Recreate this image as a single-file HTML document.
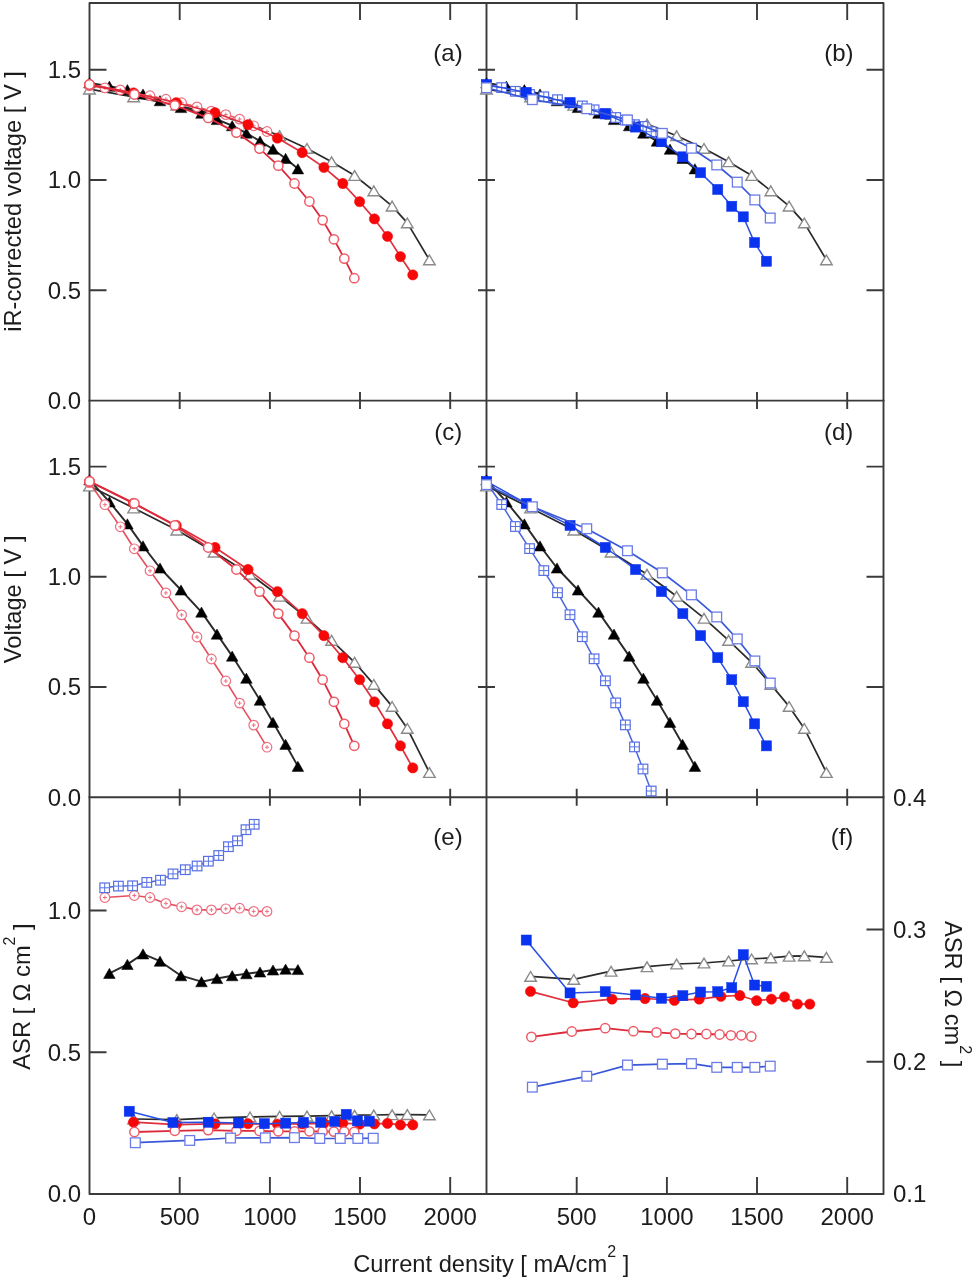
<!DOCTYPE html>
<html><head><meta charset="utf-8"><title>Chart</title>
<style>html,body{margin:0;padding:0;background:#fff;width:974px;height:1280px;overflow:hidden}svg{display:block}</style>
</head><body>
<svg width="974" height="1280" viewBox="0 0 974 1280">
<g stroke="#3a3a3a" stroke-width="1.9" fill="none" stroke-linecap="square" stroke-linejoin="round">
<rect x="89.5" y="3.0" width="794.0" height="1191.0"/>
<path d="M486.5 3.0V1194.0M89.5 400.6H883.5M89.5 797.2H883.5"/>
</g>
<path d="M179.7 3.0v17M179.7 392.1v17M179.7 788.7v17M179.7 1194.0v-17M269.9 3.0v17M269.9 392.1v17M269.9 788.7v17M269.9 1194.0v-17M360.0 3.0v17M360.0 392.1v17M360.0 788.7v17M360.0 1194.0v-17M450.2 3.0v17M450.2 392.1v17M450.2 788.7v17M450.2 1194.0v-17M576.7 3.0v17M576.7 392.1v17M576.7 788.7v17M576.7 1194.0v-17M666.9 3.0v17M666.9 392.1v17M666.9 788.7v17M666.9 1194.0v-17M757.0 3.0v17M757.0 392.1v17M757.0 788.7v17M757.0 1194.0v-17M847.2 3.0v17M847.2 392.1v17M847.2 788.7v17M847.2 1194.0v-17M89.5 290.3h17M478.0 290.3h17M883.5 290.3h-17M89.5 687.0h17M478.0 687.0h17M883.5 687.0h-17M89.5 180.0h17M478.0 180.0h17M883.5 180.0h-17M89.5 576.8h17M478.0 576.8h17M883.5 576.8h-17M89.5 69.7h17M478.0 69.7h17M883.5 69.7h-17M89.5 466.6h17M478.0 466.6h17M883.5 466.6h-17M89.5 1052.2h17M89.5 910.5h17M883.5 1061.8h-17M883.5 929.5h-17" stroke="#3a3a3a" stroke-width="1.9" fill="none"/>
<path d="M89.5 89.1 L133.6 96.9 L176.8 105.2 L214.1 114.4 L250.0 124.0 L279.6 135.7 L307.0 148.4 L331.6 161.7 L354.6 175.5 L373.8 190.8 L392.1 206.1 L407.3 222.9 L429.4 259.9" fill="none" stroke="#2a2a2a" stroke-width="1.7" stroke-linejoin="round"/>
<polygon points="83.7,94.0 95.3,94.0 89.5,84.2" fill="#ffffff" stroke="#8a8a8a" stroke-width="1.4" stroke-linejoin="miter"/>
<polygon points="127.8,101.8 139.4,101.8 133.6,92.0" fill="#ffffff" stroke="#8a8a8a" stroke-width="1.4" stroke-linejoin="miter"/>
<polygon points="171.0,110.1 182.6,110.1 176.8,100.3" fill="#ffffff" stroke="#8a8a8a" stroke-width="1.4" stroke-linejoin="miter"/>
<polygon points="208.3,119.3 219.9,119.3 214.1,109.5" fill="#ffffff" stroke="#8a8a8a" stroke-width="1.4" stroke-linejoin="miter"/>
<polygon points="244.2,128.9 255.8,128.9 250.0,119.1" fill="#ffffff" stroke="#8a8a8a" stroke-width="1.4" stroke-linejoin="miter"/>
<polygon points="273.8,140.6 285.4,140.6 279.6,130.8" fill="#ffffff" stroke="#8a8a8a" stroke-width="1.4" stroke-linejoin="miter"/>
<polygon points="301.2,153.3 312.8,153.3 307.0,143.5" fill="#ffffff" stroke="#8a8a8a" stroke-width="1.4" stroke-linejoin="miter"/>
<polygon points="325.8,166.6 337.4,166.6 331.6,156.8" fill="#ffffff" stroke="#8a8a8a" stroke-width="1.4" stroke-linejoin="miter"/>
<polygon points="348.8,180.4 360.4,180.4 354.6,170.6" fill="#ffffff" stroke="#8a8a8a" stroke-width="1.4" stroke-linejoin="miter"/>
<polygon points="368.0,195.7 379.6,195.7 373.8,185.9" fill="#ffffff" stroke="#8a8a8a" stroke-width="1.4" stroke-linejoin="miter"/>
<polygon points="386.3,211.0 397.9,211.0 392.1,201.2" fill="#ffffff" stroke="#8a8a8a" stroke-width="1.4" stroke-linejoin="miter"/>
<polygon points="401.5,227.8 413.1,227.8 407.3,218.0" fill="#ffffff" stroke="#8a8a8a" stroke-width="1.4" stroke-linejoin="miter"/>
<polygon points="423.6,264.8 435.2,264.8 429.4,255.0" fill="#ffffff" stroke="#8a8a8a" stroke-width="1.4" stroke-linejoin="miter"/>
<path d="M89.5 82.9 L109.4 86.2 L127.4 89.7 L143.0 94.0 L160.0 100.7 L181.0 107.5 L201.5 113.2 L217.0 119.5 L232.2 125.7 L246.4 133.1 L260.0 141.1 L273.0 149.2 L285.6 158.4 L297.9 168.8" fill="none" stroke="#2a2a2a" stroke-width="1.9" stroke-linejoin="round"/>
<polygon points="83.7,88.0 95.3,88.0 89.5,77.8" fill="#000000" stroke="#000000" stroke-width="0.5" stroke-linejoin="miter"/>
<polygon points="103.6,91.3 115.2,91.3 109.4,81.1" fill="#000000" stroke="#000000" stroke-width="0.5" stroke-linejoin="miter"/>
<polygon points="121.6,94.8 133.2,94.8 127.4,84.6" fill="#000000" stroke="#000000" stroke-width="0.5" stroke-linejoin="miter"/>
<polygon points="137.2,99.1 148.8,99.1 143.0,88.9" fill="#000000" stroke="#000000" stroke-width="0.5" stroke-linejoin="miter"/>
<polygon points="154.2,105.8 165.8,105.8 160.0,95.6" fill="#000000" stroke="#000000" stroke-width="0.5" stroke-linejoin="miter"/>
<polygon points="175.2,112.6 186.8,112.6 181.0,102.4" fill="#000000" stroke="#000000" stroke-width="0.5" stroke-linejoin="miter"/>
<polygon points="195.7,118.3 207.3,118.3 201.5,108.1" fill="#000000" stroke="#000000" stroke-width="0.5" stroke-linejoin="miter"/>
<polygon points="211.2,124.6 222.8,124.6 217.0,114.4" fill="#000000" stroke="#000000" stroke-width="0.5" stroke-linejoin="miter"/>
<polygon points="226.4,130.8 238.0,130.8 232.2,120.6" fill="#000000" stroke="#000000" stroke-width="0.5" stroke-linejoin="miter"/>
<polygon points="240.6,138.2 252.2,138.2 246.4,128.0" fill="#000000" stroke="#000000" stroke-width="0.5" stroke-linejoin="miter"/>
<polygon points="254.2,146.2 265.8,146.2 260.0,136.0" fill="#000000" stroke="#000000" stroke-width="0.5" stroke-linejoin="miter"/>
<polygon points="267.2,154.3 278.8,154.3 273.0,144.1" fill="#000000" stroke="#000000" stroke-width="0.5" stroke-linejoin="miter"/>
<polygon points="279.8,163.5 291.4,163.5 285.6,153.3" fill="#000000" stroke="#000000" stroke-width="0.5" stroke-linejoin="miter"/>
<polygon points="292.1,173.9 303.7,173.9 297.9,163.7" fill="#000000" stroke="#000000" stroke-width="0.5" stroke-linejoin="miter"/>
<path d="M89.5 85.8 L104.9 87.9 L120.3 89.9 L134.3 93.6 L150.0 95.7 L165.9 99.2 L181.6 102.7 L197.0 106.9 L211.4 111.1 L225.8 114.6 L239.6 119.1 L253.7 125.8 L267.0 131.5" fill="none" stroke="#e4505e" stroke-width="1.6" stroke-linejoin="round"/>
<circle cx="89.5" cy="85.8" r="4.80" fill="#ffffff" stroke="#ee7080" stroke-width="1.2"/><path d="M87.5 85.8H91.5M89.5 83.8V87.8" stroke="#ee7080" stroke-width="1"/>
<circle cx="104.9" cy="87.9" r="4.80" fill="#ffffff" stroke="#ee7080" stroke-width="1.2"/><path d="M102.9 87.9H106.9M104.9 85.9V89.9" stroke="#ee7080" stroke-width="1"/>
<circle cx="120.3" cy="89.9" r="4.80" fill="#ffffff" stroke="#ee7080" stroke-width="1.2"/><path d="M118.3 89.9H122.3M120.3 87.9V91.9" stroke="#ee7080" stroke-width="1"/>
<circle cx="134.3" cy="93.6" r="4.80" fill="#ffffff" stroke="#ee7080" stroke-width="1.2"/><path d="M132.3 93.6H136.3M134.3 91.6V95.6" stroke="#ee7080" stroke-width="1"/>
<circle cx="150.0" cy="95.7" r="4.80" fill="#ffffff" stroke="#ee7080" stroke-width="1.2"/><path d="M148.0 95.7H152.0M150.0 93.7V97.7" stroke="#ee7080" stroke-width="1"/>
<circle cx="165.9" cy="99.2" r="4.80" fill="#ffffff" stroke="#ee7080" stroke-width="1.2"/><path d="M163.9 99.2H167.9M165.9 97.2V101.2" stroke="#ee7080" stroke-width="1"/>
<circle cx="181.6" cy="102.7" r="4.80" fill="#ffffff" stroke="#ee7080" stroke-width="1.2"/><path d="M179.6 102.7H183.6M181.6 100.7V104.7" stroke="#ee7080" stroke-width="1"/>
<circle cx="197.0" cy="106.9" r="4.80" fill="#ffffff" stroke="#ee7080" stroke-width="1.2"/><path d="M195.0 106.9H199.0M197.0 104.9V108.9" stroke="#ee7080" stroke-width="1"/>
<circle cx="211.4" cy="111.1" r="4.80" fill="#ffffff" stroke="#ee7080" stroke-width="1.2"/><path d="M209.4 111.1H213.4M211.4 109.1V113.1" stroke="#ee7080" stroke-width="1"/>
<circle cx="225.8" cy="114.6" r="4.80" fill="#ffffff" stroke="#ee7080" stroke-width="1.2"/><path d="M223.8 114.6H227.8M225.8 112.6V116.6" stroke="#ee7080" stroke-width="1"/>
<circle cx="239.6" cy="119.1" r="4.80" fill="#ffffff" stroke="#ee7080" stroke-width="1.2"/><path d="M237.6 119.1H241.6M239.6 117.1V121.1" stroke="#ee7080" stroke-width="1"/>
<circle cx="253.7" cy="125.8" r="4.80" fill="#ffffff" stroke="#ee7080" stroke-width="1.2"/><path d="M251.7 125.8H255.7M253.7 123.8V127.8" stroke="#ee7080" stroke-width="1"/>
<circle cx="267.0" cy="131.5" r="4.80" fill="#ffffff" stroke="#ee7080" stroke-width="1.2"/><path d="M265.0 131.5H269.0M267.0 129.5V133.5" stroke="#ee7080" stroke-width="1"/>
<path d="M89.5 84.5 L133.5 92.9 L176.2 102.7 L215.0 112.7 L248.0 124.7 L277.4 138.1 L302.2 152.5 L323.9 167.4 L342.8 183.5 L359.6 201.7 L374.4 218.9 L387.5 236.4 L400.4 256.6 L412.8 274.9" fill="none" stroke="#e0303e" stroke-width="1.7" stroke-linejoin="round"/>
<circle cx="89.5" cy="84.5" r="5.15" fill="#f70808" stroke="#f70808" stroke-width="0.5"/>
<circle cx="133.5" cy="92.9" r="5.15" fill="#f70808" stroke="#f70808" stroke-width="0.5"/>
<circle cx="176.2" cy="102.7" r="5.15" fill="#f70808" stroke="#f70808" stroke-width="0.5"/>
<circle cx="215.0" cy="112.7" r="5.15" fill="#f70808" stroke="#f70808" stroke-width="0.5"/>
<circle cx="248.0" cy="124.7" r="5.15" fill="#f70808" stroke="#f70808" stroke-width="0.5"/>
<circle cx="277.4" cy="138.1" r="5.15" fill="#f70808" stroke="#f70808" stroke-width="0.5"/>
<circle cx="302.2" cy="152.5" r="5.15" fill="#f70808" stroke="#f70808" stroke-width="0.5"/>
<circle cx="323.9" cy="167.4" r="5.15" fill="#f70808" stroke="#f70808" stroke-width="0.5"/>
<circle cx="342.8" cy="183.5" r="5.15" fill="#f70808" stroke="#f70808" stroke-width="0.5"/>
<circle cx="359.6" cy="201.7" r="5.15" fill="#f70808" stroke="#f70808" stroke-width="0.5"/>
<circle cx="374.4" cy="218.9" r="5.15" fill="#f70808" stroke="#f70808" stroke-width="0.5"/>
<circle cx="387.5" cy="236.4" r="5.15" fill="#f70808" stroke="#f70808" stroke-width="0.5"/>
<circle cx="400.4" cy="256.6" r="5.15" fill="#f70808" stroke="#f70808" stroke-width="0.5"/>
<circle cx="412.8" cy="274.9" r="5.15" fill="#f70808" stroke="#f70808" stroke-width="0.5"/>
<path d="M89.5 84.5 L134.4 94.5 L174.8 105.3 L208.2 117.9 L236.4 132.6 L259.5 148.6 L278.3 165.7 L294.5 183.5 L309.4 201.5 L322.6 220.1 L333.9 239.3 L344.3 258.6 L354.3 278.2" fill="none" stroke="#dc2a3a" stroke-width="1.8" stroke-linejoin="round"/>
<circle cx="89.5" cy="84.5" r="4.65" fill="#ffffff" stroke="#ee5a66" stroke-width="1.5"/>
<circle cx="134.4" cy="94.5" r="4.65" fill="#ffffff" stroke="#ee5a66" stroke-width="1.5"/>
<circle cx="174.8" cy="105.3" r="4.65" fill="#ffffff" stroke="#ee5a66" stroke-width="1.5"/>
<circle cx="208.2" cy="117.9" r="4.65" fill="#ffffff" stroke="#ee5a66" stroke-width="1.5"/>
<circle cx="236.4" cy="132.6" r="4.65" fill="#ffffff" stroke="#ee5a66" stroke-width="1.5"/>
<circle cx="259.5" cy="148.6" r="4.65" fill="#ffffff" stroke="#ee5a66" stroke-width="1.5"/>
<circle cx="278.3" cy="165.7" r="4.65" fill="#ffffff" stroke="#ee5a66" stroke-width="1.5"/>
<circle cx="294.5" cy="183.5" r="4.65" fill="#ffffff" stroke="#ee5a66" stroke-width="1.5"/>
<circle cx="309.4" cy="201.5" r="4.65" fill="#ffffff" stroke="#ee5a66" stroke-width="1.5"/>
<circle cx="322.6" cy="220.1" r="4.65" fill="#ffffff" stroke="#ee5a66" stroke-width="1.5"/>
<circle cx="333.9" cy="239.3" r="4.65" fill="#ffffff" stroke="#ee5a66" stroke-width="1.5"/>
<circle cx="344.3" cy="258.6" r="4.65" fill="#ffffff" stroke="#ee5a66" stroke-width="1.5"/>
<circle cx="354.3" cy="278.2" r="4.65" fill="#ffffff" stroke="#ee5a66" stroke-width="1.5"/>
<path d="M89.5 486.0 L133.6 508.0 L176.8 530.1 L214.1 552.1 L250.0 574.2 L279.6 596.2 L307.0 618.2 L331.6 640.3 L354.6 662.3 L373.8 684.4 L392.1 706.4 L407.3 728.4 L429.4 772.5" fill="none" stroke="#2a2a2a" stroke-width="1.7" stroke-linejoin="round"/>
<polygon points="83.7,490.9 95.3,490.9 89.5,481.1" fill="#ffffff" stroke="#8a8a8a" stroke-width="1.4" stroke-linejoin="miter"/>
<polygon points="127.8,512.9 139.4,512.9 133.6,503.1" fill="#ffffff" stroke="#8a8a8a" stroke-width="1.4" stroke-linejoin="miter"/>
<polygon points="171.0,535.0 182.6,535.0 176.8,525.2" fill="#ffffff" stroke="#8a8a8a" stroke-width="1.4" stroke-linejoin="miter"/>
<polygon points="208.3,557.0 219.9,557.0 214.1,547.2" fill="#ffffff" stroke="#8a8a8a" stroke-width="1.4" stroke-linejoin="miter"/>
<polygon points="244.2,579.1 255.8,579.1 250.0,569.3" fill="#ffffff" stroke="#8a8a8a" stroke-width="1.4" stroke-linejoin="miter"/>
<polygon points="273.8,601.1 285.4,601.1 279.6,591.3" fill="#ffffff" stroke="#8a8a8a" stroke-width="1.4" stroke-linejoin="miter"/>
<polygon points="301.2,623.1 312.8,623.1 307.0,613.3" fill="#ffffff" stroke="#8a8a8a" stroke-width="1.4" stroke-linejoin="miter"/>
<polygon points="325.8,645.2 337.4,645.2 331.6,635.4" fill="#ffffff" stroke="#8a8a8a" stroke-width="1.4" stroke-linejoin="miter"/>
<polygon points="348.8,667.2 360.4,667.2 354.6,657.4" fill="#ffffff" stroke="#8a8a8a" stroke-width="1.4" stroke-linejoin="miter"/>
<polygon points="368.0,689.3 379.6,689.3 373.8,679.5" fill="#ffffff" stroke="#8a8a8a" stroke-width="1.4" stroke-linejoin="miter"/>
<polygon points="386.3,711.3 397.9,711.3 392.1,701.5" fill="#ffffff" stroke="#8a8a8a" stroke-width="1.4" stroke-linejoin="miter"/>
<polygon points="401.5,733.3 413.1,733.3 407.3,723.5" fill="#ffffff" stroke="#8a8a8a" stroke-width="1.4" stroke-linejoin="miter"/>
<polygon points="423.6,777.4 435.2,777.4 429.4,767.6" fill="#ffffff" stroke="#8a8a8a" stroke-width="1.4" stroke-linejoin="miter"/>
<path d="M89.5 479.8 L109.4 501.9 L127.4 523.9 L143.0 545.9 L160.0 568.0 L181.0 590.0 L201.5 612.1 L217.0 634.1 L232.2 656.1 L246.4 678.2 L260.0 700.2 L273.0 722.3 L285.6 744.3 L297.9 766.3" fill="none" stroke="#2a2a2a" stroke-width="1.9" stroke-linejoin="round"/>
<polygon points="83.7,484.9 95.3,484.9 89.5,474.7" fill="#000000" stroke="#000000" stroke-width="0.5" stroke-linejoin="miter"/>
<polygon points="103.6,507.0 115.2,507.0 109.4,496.8" fill="#000000" stroke="#000000" stroke-width="0.5" stroke-linejoin="miter"/>
<polygon points="121.6,529.0 133.2,529.0 127.4,518.8" fill="#000000" stroke="#000000" stroke-width="0.5" stroke-linejoin="miter"/>
<polygon points="137.2,551.0 148.8,551.0 143.0,540.8" fill="#000000" stroke="#000000" stroke-width="0.5" stroke-linejoin="miter"/>
<polygon points="154.2,573.1 165.8,573.1 160.0,562.9" fill="#000000" stroke="#000000" stroke-width="0.5" stroke-linejoin="miter"/>
<polygon points="175.2,595.1 186.8,595.1 181.0,584.9" fill="#000000" stroke="#000000" stroke-width="0.5" stroke-linejoin="miter"/>
<polygon points="195.7,617.2 207.3,617.2 201.5,607.0" fill="#000000" stroke="#000000" stroke-width="0.5" stroke-linejoin="miter"/>
<polygon points="211.2,639.2 222.8,639.2 217.0,629.0" fill="#000000" stroke="#000000" stroke-width="0.5" stroke-linejoin="miter"/>
<polygon points="226.4,661.2 238.0,661.2 232.2,651.0" fill="#000000" stroke="#000000" stroke-width="0.5" stroke-linejoin="miter"/>
<polygon points="240.6,683.3 252.2,683.3 246.4,673.1" fill="#000000" stroke="#000000" stroke-width="0.5" stroke-linejoin="miter"/>
<polygon points="254.2,705.3 265.8,705.3 260.0,695.1" fill="#000000" stroke="#000000" stroke-width="0.5" stroke-linejoin="miter"/>
<polygon points="267.2,727.4 278.8,727.4 273.0,717.2" fill="#000000" stroke="#000000" stroke-width="0.5" stroke-linejoin="miter"/>
<polygon points="279.8,749.4 291.4,749.4 285.6,739.2" fill="#000000" stroke="#000000" stroke-width="0.5" stroke-linejoin="miter"/>
<polygon points="292.1,771.4 303.7,771.4 297.9,761.2" fill="#000000" stroke="#000000" stroke-width="0.5" stroke-linejoin="miter"/>
<path d="M89.5 482.7 L104.9 504.7 L120.3 526.8 L134.3 548.8 L150.0 570.8 L165.9 592.9 L181.6 614.9 L197.0 637.0 L211.4 659.0 L225.8 681.0 L239.6 703.1 L253.7 725.1 L267.0 747.2" fill="none" stroke="#e4505e" stroke-width="1.6" stroke-linejoin="round"/>
<circle cx="89.5" cy="482.7" r="4.80" fill="#ffffff" stroke="#ee7080" stroke-width="1.2"/><path d="M87.5 482.7H91.5M89.5 480.7V484.7" stroke="#ee7080" stroke-width="1"/>
<circle cx="104.9" cy="504.7" r="4.80" fill="#ffffff" stroke="#ee7080" stroke-width="1.2"/><path d="M102.9 504.7H106.9M104.9 502.7V506.7" stroke="#ee7080" stroke-width="1"/>
<circle cx="120.3" cy="526.8" r="4.80" fill="#ffffff" stroke="#ee7080" stroke-width="1.2"/><path d="M118.3 526.8H122.3M120.3 524.8V528.8" stroke="#ee7080" stroke-width="1"/>
<circle cx="134.3" cy="548.8" r="4.80" fill="#ffffff" stroke="#ee7080" stroke-width="1.2"/><path d="M132.3 548.8H136.3M134.3 546.8V550.8" stroke="#ee7080" stroke-width="1"/>
<circle cx="150.0" cy="570.8" r="4.80" fill="#ffffff" stroke="#ee7080" stroke-width="1.2"/><path d="M148.0 570.8H152.0M150.0 568.8V572.8" stroke="#ee7080" stroke-width="1"/>
<circle cx="165.9" cy="592.9" r="4.80" fill="#ffffff" stroke="#ee7080" stroke-width="1.2"/><path d="M163.9 592.9H167.9M165.9 590.9V594.9" stroke="#ee7080" stroke-width="1"/>
<circle cx="181.6" cy="614.9" r="4.80" fill="#ffffff" stroke="#ee7080" stroke-width="1.2"/><path d="M179.6 614.9H183.6M181.6 612.9V616.9" stroke="#ee7080" stroke-width="1"/>
<circle cx="197.0" cy="637.0" r="4.80" fill="#ffffff" stroke="#ee7080" stroke-width="1.2"/><path d="M195.0 637.0H199.0M197.0 635.0V639.0" stroke="#ee7080" stroke-width="1"/>
<circle cx="211.4" cy="659.0" r="4.80" fill="#ffffff" stroke="#ee7080" stroke-width="1.2"/><path d="M209.4 659.0H213.4M211.4 657.0V661.0" stroke="#ee7080" stroke-width="1"/>
<circle cx="225.8" cy="681.0" r="4.80" fill="#ffffff" stroke="#ee7080" stroke-width="1.2"/><path d="M223.8 681.0H227.8M225.8 679.0V683.0" stroke="#ee7080" stroke-width="1"/>
<circle cx="239.6" cy="703.1" r="4.80" fill="#ffffff" stroke="#ee7080" stroke-width="1.2"/><path d="M237.6 703.1H241.6M239.6 701.1V705.1" stroke="#ee7080" stroke-width="1"/>
<circle cx="253.7" cy="725.1" r="4.80" fill="#ffffff" stroke="#ee7080" stroke-width="1.2"/><path d="M251.7 725.1H255.7M253.7 723.1V727.1" stroke="#ee7080" stroke-width="1"/>
<circle cx="267.0" cy="747.2" r="4.80" fill="#ffffff" stroke="#ee7080" stroke-width="1.2"/><path d="M265.0 747.2H269.0M267.0 745.2V749.2" stroke="#ee7080" stroke-width="1"/>
<path d="M89.5 481.4 L133.5 503.4 L176.2 525.4 L215.0 547.5 L248.0 569.5 L277.4 591.6 L302.2 613.6 L323.9 635.6 L342.8 657.7 L359.6 679.7 L374.4 701.8 L387.5 723.8 L400.4 745.8 L412.8 767.9" fill="none" stroke="#e0303e" stroke-width="1.7" stroke-linejoin="round"/>
<circle cx="89.5" cy="481.4" r="5.15" fill="#f70808" stroke="#f70808" stroke-width="0.5"/>
<circle cx="133.5" cy="503.4" r="5.15" fill="#f70808" stroke="#f70808" stroke-width="0.5"/>
<circle cx="176.2" cy="525.4" r="5.15" fill="#f70808" stroke="#f70808" stroke-width="0.5"/>
<circle cx="215.0" cy="547.5" r="5.15" fill="#f70808" stroke="#f70808" stroke-width="0.5"/>
<circle cx="248.0" cy="569.5" r="5.15" fill="#f70808" stroke="#f70808" stroke-width="0.5"/>
<circle cx="277.4" cy="591.6" r="5.15" fill="#f70808" stroke="#f70808" stroke-width="0.5"/>
<circle cx="302.2" cy="613.6" r="5.15" fill="#f70808" stroke="#f70808" stroke-width="0.5"/>
<circle cx="323.9" cy="635.6" r="5.15" fill="#f70808" stroke="#f70808" stroke-width="0.5"/>
<circle cx="342.8" cy="657.7" r="5.15" fill="#f70808" stroke="#f70808" stroke-width="0.5"/>
<circle cx="359.6" cy="679.7" r="5.15" fill="#f70808" stroke="#f70808" stroke-width="0.5"/>
<circle cx="374.4" cy="701.8" r="5.15" fill="#f70808" stroke="#f70808" stroke-width="0.5"/>
<circle cx="387.5" cy="723.8" r="5.15" fill="#f70808" stroke="#f70808" stroke-width="0.5"/>
<circle cx="400.4" cy="745.8" r="5.15" fill="#f70808" stroke="#f70808" stroke-width="0.5"/>
<circle cx="412.8" cy="767.9" r="5.15" fill="#f70808" stroke="#f70808" stroke-width="0.5"/>
<path d="M89.5 481.4 L134.4 503.4 L174.8 525.4 L208.2 547.5 L236.4 569.5 L259.5 591.6 L278.3 613.6 L294.5 635.6 L309.4 657.7 L322.6 679.7 L333.9 701.8 L344.3 723.8 L354.3 745.8" fill="none" stroke="#dc2a3a" stroke-width="1.8" stroke-linejoin="round"/>
<circle cx="89.5" cy="481.4" r="4.65" fill="#ffffff" stroke="#ee5a66" stroke-width="1.5"/>
<circle cx="134.4" cy="503.4" r="4.65" fill="#ffffff" stroke="#ee5a66" stroke-width="1.5"/>
<circle cx="174.8" cy="525.4" r="4.65" fill="#ffffff" stroke="#ee5a66" stroke-width="1.5"/>
<circle cx="208.2" cy="547.5" r="4.65" fill="#ffffff" stroke="#ee5a66" stroke-width="1.5"/>
<circle cx="236.4" cy="569.5" r="4.65" fill="#ffffff" stroke="#ee5a66" stroke-width="1.5"/>
<circle cx="259.5" cy="591.6" r="4.65" fill="#ffffff" stroke="#ee5a66" stroke-width="1.5"/>
<circle cx="278.3" cy="613.6" r="4.65" fill="#ffffff" stroke="#ee5a66" stroke-width="1.5"/>
<circle cx="294.5" cy="635.6" r="4.65" fill="#ffffff" stroke="#ee5a66" stroke-width="1.5"/>
<circle cx="309.4" cy="657.7" r="4.65" fill="#ffffff" stroke="#ee5a66" stroke-width="1.5"/>
<circle cx="322.6" cy="679.7" r="4.65" fill="#ffffff" stroke="#ee5a66" stroke-width="1.5"/>
<circle cx="333.9" cy="701.8" r="4.65" fill="#ffffff" stroke="#ee5a66" stroke-width="1.5"/>
<circle cx="344.3" cy="723.8" r="4.65" fill="#ffffff" stroke="#ee5a66" stroke-width="1.5"/>
<circle cx="354.3" cy="745.8" r="4.65" fill="#ffffff" stroke="#ee5a66" stroke-width="1.5"/>
<path d="M486.5 89.1 L530.6 96.9 L573.8 105.2 L611.1 114.4 L647.0 124.0 L676.6 135.7 L704.0 148.4 L728.6 161.7 L751.6 175.5 L770.8 190.8 L789.1 206.1 L804.3 222.9 L826.4 259.9" fill="none" stroke="#2a2a2a" stroke-width="1.7" stroke-linejoin="round"/>
<polygon points="480.7,94.0 492.3,94.0 486.5,84.2" fill="#ffffff" stroke="#8a8a8a" stroke-width="1.4" stroke-linejoin="miter"/>
<polygon points="524.8,101.8 536.4,101.8 530.6,92.0" fill="#ffffff" stroke="#8a8a8a" stroke-width="1.4" stroke-linejoin="miter"/>
<polygon points="568.0,110.1 579.6,110.1 573.8,100.3" fill="#ffffff" stroke="#8a8a8a" stroke-width="1.4" stroke-linejoin="miter"/>
<polygon points="605.3,119.3 616.9,119.3 611.1,109.5" fill="#ffffff" stroke="#8a8a8a" stroke-width="1.4" stroke-linejoin="miter"/>
<polygon points="641.2,128.9 652.8,128.9 647.0,119.1" fill="#ffffff" stroke="#8a8a8a" stroke-width="1.4" stroke-linejoin="miter"/>
<polygon points="670.8,140.6 682.4,140.6 676.6,130.8" fill="#ffffff" stroke="#8a8a8a" stroke-width="1.4" stroke-linejoin="miter"/>
<polygon points="698.2,153.3 709.8,153.3 704.0,143.5" fill="#ffffff" stroke="#8a8a8a" stroke-width="1.4" stroke-linejoin="miter"/>
<polygon points="722.8,166.6 734.4,166.6 728.6,156.8" fill="#ffffff" stroke="#8a8a8a" stroke-width="1.4" stroke-linejoin="miter"/>
<polygon points="745.8,180.4 757.4,180.4 751.6,170.6" fill="#ffffff" stroke="#8a8a8a" stroke-width="1.4" stroke-linejoin="miter"/>
<polygon points="765.0,195.7 776.6,195.7 770.8,185.9" fill="#ffffff" stroke="#8a8a8a" stroke-width="1.4" stroke-linejoin="miter"/>
<polygon points="783.3,211.0 794.9,211.0 789.1,201.2" fill="#ffffff" stroke="#8a8a8a" stroke-width="1.4" stroke-linejoin="miter"/>
<polygon points="798.5,227.8 810.1,227.8 804.3,218.0" fill="#ffffff" stroke="#8a8a8a" stroke-width="1.4" stroke-linejoin="miter"/>
<polygon points="820.6,264.8 832.2,264.8 826.4,255.0" fill="#ffffff" stroke="#8a8a8a" stroke-width="1.4" stroke-linejoin="miter"/>
<path d="M486.5 82.9 L506.4 86.2 L524.4 89.7 L540.0 94.0 L557.0 100.7 L578.0 107.5 L598.5 113.2 L614.0 119.5 L629.2 125.7 L643.4 133.1 L657.0 141.1 L670.0 149.2 L682.6 158.4 L694.9 168.8" fill="none" stroke="#2a2a2a" stroke-width="1.9" stroke-linejoin="round"/>
<polygon points="480.7,88.0 492.3,88.0 486.5,77.8" fill="#000000" stroke="#000000" stroke-width="0.5" stroke-linejoin="miter"/>
<polygon points="500.6,91.3 512.2,91.3 506.4,81.1" fill="#000000" stroke="#000000" stroke-width="0.5" stroke-linejoin="miter"/>
<polygon points="518.6,94.8 530.2,94.8 524.4,84.6" fill="#000000" stroke="#000000" stroke-width="0.5" stroke-linejoin="miter"/>
<polygon points="534.2,99.1 545.8,99.1 540.0,88.9" fill="#000000" stroke="#000000" stroke-width="0.5" stroke-linejoin="miter"/>
<polygon points="551.2,105.8 562.8,105.8 557.0,95.6" fill="#000000" stroke="#000000" stroke-width="0.5" stroke-linejoin="miter"/>
<polygon points="572.2,112.6 583.8,112.6 578.0,102.4" fill="#000000" stroke="#000000" stroke-width="0.5" stroke-linejoin="miter"/>
<polygon points="592.7,118.3 604.3,118.3 598.5,108.1" fill="#000000" stroke="#000000" stroke-width="0.5" stroke-linejoin="miter"/>
<polygon points="608.2,124.6 619.8,124.6 614.0,114.4" fill="#000000" stroke="#000000" stroke-width="0.5" stroke-linejoin="miter"/>
<polygon points="623.4,130.8 635.0,130.8 629.2,120.6" fill="#000000" stroke="#000000" stroke-width="0.5" stroke-linejoin="miter"/>
<polygon points="637.6,138.2 649.2,138.2 643.4,128.0" fill="#000000" stroke="#000000" stroke-width="0.5" stroke-linejoin="miter"/>
<polygon points="651.2,146.2 662.8,146.2 657.0,136.0" fill="#000000" stroke="#000000" stroke-width="0.5" stroke-linejoin="miter"/>
<polygon points="664.2,154.3 675.8,154.3 670.0,144.1" fill="#000000" stroke="#000000" stroke-width="0.5" stroke-linejoin="miter"/>
<polygon points="676.8,163.5 688.4,163.5 682.6,153.3" fill="#000000" stroke="#000000" stroke-width="0.5" stroke-linejoin="miter"/>
<polygon points="689.1,173.9 700.7,173.9 694.9,163.7" fill="#000000" stroke="#000000" stroke-width="0.5" stroke-linejoin="miter"/>
<path d="M486.5 85.6 L501.7 87.6 L515.4 91.3 L529.6 94.5 L543.8 96.8 L557.5 99.7 L570.0 102.6 L582.3 105.9 L594.1 109.8 L605.4 113.4 L615.7 117.5 L625.4 120.1 L634.5 124.7 L643.0 126.4 L651.2 131.7" fill="none" stroke="#4a66dc" stroke-width="1.5" stroke-linejoin="round"/>
<rect x="481.7" y="80.8" width="9.6" height="9.6" fill="#ffffff" stroke="#5870e4" stroke-width="1.2"/><path d="M481.7 85.6H491.3M486.5 80.8V90.4" stroke="#5870e4" stroke-width="1"/>
<rect x="496.9" y="82.8" width="9.6" height="9.6" fill="#ffffff" stroke="#5870e4" stroke-width="1.2"/><path d="M496.9 87.6H506.5M501.7 82.8V92.4" stroke="#5870e4" stroke-width="1"/>
<rect x="510.6" y="86.5" width="9.6" height="9.6" fill="#ffffff" stroke="#5870e4" stroke-width="1.2"/><path d="M510.6 91.3H520.2M515.4 86.5V96.1" stroke="#5870e4" stroke-width="1"/>
<rect x="524.8" y="89.7" width="9.6" height="9.6" fill="#ffffff" stroke="#5870e4" stroke-width="1.2"/><path d="M524.8 94.5H534.4M529.6 89.7V99.3" stroke="#5870e4" stroke-width="1"/>
<rect x="539.0" y="92.0" width="9.6" height="9.6" fill="#ffffff" stroke="#5870e4" stroke-width="1.2"/><path d="M539.0 96.8H548.6M543.8 92.0V101.6" stroke="#5870e4" stroke-width="1"/>
<rect x="552.7" y="94.9" width="9.6" height="9.6" fill="#ffffff" stroke="#5870e4" stroke-width="1.2"/><path d="M552.7 99.7H562.3M557.5 94.9V104.5" stroke="#5870e4" stroke-width="1"/>
<rect x="565.2" y="97.8" width="9.6" height="9.6" fill="#ffffff" stroke="#5870e4" stroke-width="1.2"/><path d="M565.2 102.6H574.8M570.0 97.8V107.4" stroke="#5870e4" stroke-width="1"/>
<rect x="577.5" y="101.1" width="9.6" height="9.6" fill="#ffffff" stroke="#5870e4" stroke-width="1.2"/><path d="M577.5 105.9H587.1M582.3 101.1V110.7" stroke="#5870e4" stroke-width="1"/>
<rect x="589.3" y="105.0" width="9.6" height="9.6" fill="#ffffff" stroke="#5870e4" stroke-width="1.2"/><path d="M589.3 109.8H598.9M594.1 105.0V114.6" stroke="#5870e4" stroke-width="1"/>
<rect x="600.6" y="108.6" width="9.6" height="9.6" fill="#ffffff" stroke="#5870e4" stroke-width="1.2"/><path d="M600.6 113.4H610.2M605.4 108.6V118.2" stroke="#5870e4" stroke-width="1"/>
<rect x="610.9" y="112.7" width="9.6" height="9.6" fill="#ffffff" stroke="#5870e4" stroke-width="1.2"/><path d="M610.9 117.5H620.5M615.7 112.7V122.3" stroke="#5870e4" stroke-width="1"/>
<rect x="620.6" y="115.3" width="9.6" height="9.6" fill="#ffffff" stroke="#5870e4" stroke-width="1.2"/><path d="M620.6 120.1H630.2M625.4 115.3V124.9" stroke="#5870e4" stroke-width="1"/>
<rect x="629.7" y="119.9" width="9.6" height="9.6" fill="#ffffff" stroke="#5870e4" stroke-width="1.2"/><path d="M629.7 124.7H639.3M634.5 119.9V129.5" stroke="#5870e4" stroke-width="1"/>
<rect x="638.2" y="121.6" width="9.6" height="9.6" fill="#ffffff" stroke="#5870e4" stroke-width="1.2"/><path d="M638.2 126.4H647.8M643.0 121.6V131.2" stroke="#5870e4" stroke-width="1"/>
<rect x="646.4" y="126.9" width="9.6" height="9.6" fill="#ffffff" stroke="#5870e4" stroke-width="1.2"/><path d="M646.4 131.7H656.0M651.2 126.9V136.5" stroke="#5870e4" stroke-width="1"/>
<path d="M486.5 84.5 L526.2 92.4 L570.0 102.9 L605.2 113.9 L635.5 127.1 L661.4 141.7 L682.8 156.8 L700.5 172.8 L717.7 189.4 L731.7 206.2 L743.3 216.8 L754.5 242.6 L766.4 261.2" fill="none" stroke="#2a4ee0" stroke-width="1.5" stroke-linejoin="round"/>
<rect x="481.4" y="79.4" width="10.1" height="10.1" fill="#0a33f0" stroke="#0a33f0" stroke-width="0.5"/>
<rect x="521.2" y="87.3" width="10.1" height="10.1" fill="#0a33f0" stroke="#0a33f0" stroke-width="0.5"/>
<rect x="565.0" y="97.8" width="10.1" height="10.1" fill="#0a33f0" stroke="#0a33f0" stroke-width="0.5"/>
<rect x="600.2" y="108.9" width="10.1" height="10.1" fill="#0a33f0" stroke="#0a33f0" stroke-width="0.5"/>
<rect x="630.5" y="122.0" width="10.1" height="10.1" fill="#0a33f0" stroke="#0a33f0" stroke-width="0.5"/>
<rect x="656.4" y="136.7" width="10.1" height="10.1" fill="#0a33f0" stroke="#0a33f0" stroke-width="0.5"/>
<rect x="677.8" y="151.8" width="10.1" height="10.1" fill="#0a33f0" stroke="#0a33f0" stroke-width="0.5"/>
<rect x="695.5" y="167.7" width="10.1" height="10.1" fill="#0a33f0" stroke="#0a33f0" stroke-width="0.5"/>
<rect x="712.7" y="184.4" width="10.1" height="10.1" fill="#0a33f0" stroke="#0a33f0" stroke-width="0.5"/>
<rect x="726.7" y="201.2" width="10.1" height="10.1" fill="#0a33f0" stroke="#0a33f0" stroke-width="0.5"/>
<rect x="738.2" y="211.8" width="10.1" height="10.1" fill="#0a33f0" stroke="#0a33f0" stroke-width="0.5"/>
<rect x="749.5" y="237.5" width="10.1" height="10.1" fill="#0a33f0" stroke="#0a33f0" stroke-width="0.5"/>
<rect x="761.4" y="256.2" width="10.1" height="10.1" fill="#0a33f0" stroke="#0a33f0" stroke-width="0.5"/>
<path d="M486.5 87.8 L532.4 99.7 L586.8 108.7 L627.5 119.9 L662.4 133.4 L691.5 148.3 L716.8 165.0 L737.2 182.2 L754.9 200.0 L770.2 218.1" fill="none" stroke="#3a58d8" stroke-width="1.7" stroke-linejoin="round"/>
<rect x="481.6" y="82.9" width="9.7" height="9.7" fill="#ffffff" stroke="#6c7ce6" stroke-width="1.3"/>
<rect x="527.5" y="94.8" width="9.7" height="9.7" fill="#ffffff" stroke="#6c7ce6" stroke-width="1.3"/>
<rect x="581.9" y="103.9" width="9.7" height="9.7" fill="#ffffff" stroke="#6c7ce6" stroke-width="1.3"/>
<rect x="622.6" y="115.1" width="9.7" height="9.7" fill="#ffffff" stroke="#6c7ce6" stroke-width="1.3"/>
<rect x="657.5" y="128.5" width="9.7" height="9.7" fill="#ffffff" stroke="#6c7ce6" stroke-width="1.3"/>
<rect x="686.6" y="143.4" width="9.7" height="9.7" fill="#ffffff" stroke="#6c7ce6" stroke-width="1.3"/>
<rect x="711.9" y="160.1" width="9.7" height="9.7" fill="#ffffff" stroke="#6c7ce6" stroke-width="1.3"/>
<rect x="732.4" y="177.3" width="9.7" height="9.7" fill="#ffffff" stroke="#6c7ce6" stroke-width="1.3"/>
<rect x="750.0" y="195.1" width="9.7" height="9.7" fill="#ffffff" stroke="#6c7ce6" stroke-width="1.3"/>
<rect x="765.4" y="213.2" width="9.7" height="9.7" fill="#ffffff" stroke="#6c7ce6" stroke-width="1.3"/>
<path d="M486.5 486.0 L530.6 508.0 L573.8 530.1 L611.1 552.1 L647.0 574.2 L676.6 596.2 L704.0 618.2 L728.6 640.3 L751.6 662.3 L770.8 684.4 L789.1 706.4 L804.3 728.4 L826.4 772.5" fill="none" stroke="#2a2a2a" stroke-width="1.7" stroke-linejoin="round"/>
<polygon points="480.7,490.9 492.3,490.9 486.5,481.1" fill="#ffffff" stroke="#8a8a8a" stroke-width="1.4" stroke-linejoin="miter"/>
<polygon points="524.8,512.9 536.4,512.9 530.6,503.1" fill="#ffffff" stroke="#8a8a8a" stroke-width="1.4" stroke-linejoin="miter"/>
<polygon points="568.0,535.0 579.6,535.0 573.8,525.2" fill="#ffffff" stroke="#8a8a8a" stroke-width="1.4" stroke-linejoin="miter"/>
<polygon points="605.3,557.0 616.9,557.0 611.1,547.2" fill="#ffffff" stroke="#8a8a8a" stroke-width="1.4" stroke-linejoin="miter"/>
<polygon points="641.2,579.1 652.8,579.1 647.0,569.3" fill="#ffffff" stroke="#8a8a8a" stroke-width="1.4" stroke-linejoin="miter"/>
<polygon points="670.8,601.1 682.4,601.1 676.6,591.3" fill="#ffffff" stroke="#8a8a8a" stroke-width="1.4" stroke-linejoin="miter"/>
<polygon points="698.2,623.1 709.8,623.1 704.0,613.3" fill="#ffffff" stroke="#8a8a8a" stroke-width="1.4" stroke-linejoin="miter"/>
<polygon points="722.8,645.2 734.4,645.2 728.6,635.4" fill="#ffffff" stroke="#8a8a8a" stroke-width="1.4" stroke-linejoin="miter"/>
<polygon points="745.8,667.2 757.4,667.2 751.6,657.4" fill="#ffffff" stroke="#8a8a8a" stroke-width="1.4" stroke-linejoin="miter"/>
<polygon points="765.0,689.3 776.6,689.3 770.8,679.5" fill="#ffffff" stroke="#8a8a8a" stroke-width="1.4" stroke-linejoin="miter"/>
<polygon points="783.3,711.3 794.9,711.3 789.1,701.5" fill="#ffffff" stroke="#8a8a8a" stroke-width="1.4" stroke-linejoin="miter"/>
<polygon points="798.5,733.3 810.1,733.3 804.3,723.5" fill="#ffffff" stroke="#8a8a8a" stroke-width="1.4" stroke-linejoin="miter"/>
<polygon points="820.6,777.4 832.2,777.4 826.4,767.6" fill="#ffffff" stroke="#8a8a8a" stroke-width="1.4" stroke-linejoin="miter"/>
<path d="M486.5 479.8 L506.4 501.9 L524.4 523.9 L540.0 545.9 L557.0 568.0 L578.0 590.0 L598.5 612.1 L614.0 634.1 L629.2 656.1 L643.4 678.2 L657.0 700.2 L670.0 722.3 L682.6 744.3 L694.9 766.3" fill="none" stroke="#2a2a2a" stroke-width="1.9" stroke-linejoin="round"/>
<polygon points="480.7,484.9 492.3,484.9 486.5,474.7" fill="#000000" stroke="#000000" stroke-width="0.5" stroke-linejoin="miter"/>
<polygon points="500.6,507.0 512.2,507.0 506.4,496.8" fill="#000000" stroke="#000000" stroke-width="0.5" stroke-linejoin="miter"/>
<polygon points="518.6,529.0 530.2,529.0 524.4,518.8" fill="#000000" stroke="#000000" stroke-width="0.5" stroke-linejoin="miter"/>
<polygon points="534.2,551.0 545.8,551.0 540.0,540.8" fill="#000000" stroke="#000000" stroke-width="0.5" stroke-linejoin="miter"/>
<polygon points="551.2,573.1 562.8,573.1 557.0,562.9" fill="#000000" stroke="#000000" stroke-width="0.5" stroke-linejoin="miter"/>
<polygon points="572.2,595.1 583.8,595.1 578.0,584.9" fill="#000000" stroke="#000000" stroke-width="0.5" stroke-linejoin="miter"/>
<polygon points="592.7,617.2 604.3,617.2 598.5,607.0" fill="#000000" stroke="#000000" stroke-width="0.5" stroke-linejoin="miter"/>
<polygon points="608.2,639.2 619.8,639.2 614.0,629.0" fill="#000000" stroke="#000000" stroke-width="0.5" stroke-linejoin="miter"/>
<polygon points="623.4,661.2 635.0,661.2 629.2,651.0" fill="#000000" stroke="#000000" stroke-width="0.5" stroke-linejoin="miter"/>
<polygon points="637.6,683.3 649.2,683.3 643.4,673.1" fill="#000000" stroke="#000000" stroke-width="0.5" stroke-linejoin="miter"/>
<polygon points="651.2,705.3 662.8,705.3 657.0,695.1" fill="#000000" stroke="#000000" stroke-width="0.5" stroke-linejoin="miter"/>
<polygon points="664.2,727.4 675.8,727.4 670.0,717.2" fill="#000000" stroke="#000000" stroke-width="0.5" stroke-linejoin="miter"/>
<polygon points="676.8,749.4 688.4,749.4 682.6,739.2" fill="#000000" stroke="#000000" stroke-width="0.5" stroke-linejoin="miter"/>
<polygon points="689.1,771.4 700.7,771.4 694.9,761.2" fill="#000000" stroke="#000000" stroke-width="0.5" stroke-linejoin="miter"/>
<path d="M486.5 482.5 L501.7 504.5 L515.4 526.5 L529.6 548.6 L543.8 570.6 L557.5 592.7 L570.0 614.7 L582.3 636.7 L594.1 658.8 L605.4 680.8 L615.7 702.9 L625.4 724.9 L634.5 746.9 L643.0 769.0 L651.2 791.0" fill="none" stroke="#4a66dc" stroke-width="1.5" stroke-linejoin="round"/>
<rect x="481.7" y="477.7" width="9.6" height="9.6" fill="#ffffff" stroke="#5870e4" stroke-width="1.2"/><path d="M481.7 482.5H491.3M486.5 477.7V487.3" stroke="#5870e4" stroke-width="1"/>
<rect x="496.9" y="499.7" width="9.6" height="9.6" fill="#ffffff" stroke="#5870e4" stroke-width="1.2"/><path d="M496.9 504.5H506.5M501.7 499.7V509.3" stroke="#5870e4" stroke-width="1"/>
<rect x="510.6" y="521.7" width="9.6" height="9.6" fill="#ffffff" stroke="#5870e4" stroke-width="1.2"/><path d="M510.6 526.5H520.2M515.4 521.7V531.3" stroke="#5870e4" stroke-width="1"/>
<rect x="524.8" y="543.8" width="9.6" height="9.6" fill="#ffffff" stroke="#5870e4" stroke-width="1.2"/><path d="M524.8 548.6H534.4M529.6 543.8V553.4" stroke="#5870e4" stroke-width="1"/>
<rect x="539.0" y="565.8" width="9.6" height="9.6" fill="#ffffff" stroke="#5870e4" stroke-width="1.2"/><path d="M539.0 570.6H548.6M543.8 565.8V575.4" stroke="#5870e4" stroke-width="1"/>
<rect x="552.7" y="587.9" width="9.6" height="9.6" fill="#ffffff" stroke="#5870e4" stroke-width="1.2"/><path d="M552.7 592.7H562.3M557.5 587.9V597.5" stroke="#5870e4" stroke-width="1"/>
<rect x="565.2" y="609.9" width="9.6" height="9.6" fill="#ffffff" stroke="#5870e4" stroke-width="1.2"/><path d="M565.2 614.7H574.8M570.0 609.9V619.5" stroke="#5870e4" stroke-width="1"/>
<rect x="577.5" y="631.9" width="9.6" height="9.6" fill="#ffffff" stroke="#5870e4" stroke-width="1.2"/><path d="M577.5 636.7H587.1M582.3 631.9V641.5" stroke="#5870e4" stroke-width="1"/>
<rect x="589.3" y="654.0" width="9.6" height="9.6" fill="#ffffff" stroke="#5870e4" stroke-width="1.2"/><path d="M589.3 658.8H598.9M594.1 654.0V663.6" stroke="#5870e4" stroke-width="1"/>
<rect x="600.6" y="676.0" width="9.6" height="9.6" fill="#ffffff" stroke="#5870e4" stroke-width="1.2"/><path d="M600.6 680.8H610.2M605.4 676.0V685.6" stroke="#5870e4" stroke-width="1"/>
<rect x="610.9" y="698.1" width="9.6" height="9.6" fill="#ffffff" stroke="#5870e4" stroke-width="1.2"/><path d="M610.9 702.9H620.5M615.7 698.1V707.7" stroke="#5870e4" stroke-width="1"/>
<rect x="620.6" y="720.1" width="9.6" height="9.6" fill="#ffffff" stroke="#5870e4" stroke-width="1.2"/><path d="M620.6 724.9H630.2M625.4 720.1V729.7" stroke="#5870e4" stroke-width="1"/>
<rect x="629.7" y="742.1" width="9.6" height="9.6" fill="#ffffff" stroke="#5870e4" stroke-width="1.2"/><path d="M629.7 746.9H639.3M634.5 742.1V751.7" stroke="#5870e4" stroke-width="1"/>
<rect x="638.2" y="764.2" width="9.6" height="9.6" fill="#ffffff" stroke="#5870e4" stroke-width="1.2"/><path d="M638.2 769.0H647.8M643.0 764.2V773.8" stroke="#5870e4" stroke-width="1"/>
<rect x="646.4" y="786.2" width="9.6" height="9.6" fill="#ffffff" stroke="#5870e4" stroke-width="1.2"/><path d="M646.4 791.0H656.0M651.2 786.2V795.8" stroke="#5870e4" stroke-width="1"/>
<path d="M486.5 481.4 L526.2 503.4 L570.0 525.4 L605.2 547.5 L635.5 569.5 L661.4 591.6 L682.8 613.6 L700.5 635.6 L717.7 657.7 L731.7 679.7 L743.3 701.8 L754.5 723.8 L766.4 745.8" fill="none" stroke="#2a4ee0" stroke-width="1.5" stroke-linejoin="round"/>
<rect x="481.4" y="476.3" width="10.1" height="10.1" fill="#0a33f0" stroke="#0a33f0" stroke-width="0.5"/>
<rect x="521.2" y="498.4" width="10.1" height="10.1" fill="#0a33f0" stroke="#0a33f0" stroke-width="0.5"/>
<rect x="565.0" y="520.4" width="10.1" height="10.1" fill="#0a33f0" stroke="#0a33f0" stroke-width="0.5"/>
<rect x="600.2" y="542.4" width="10.1" height="10.1" fill="#0a33f0" stroke="#0a33f0" stroke-width="0.5"/>
<rect x="630.5" y="564.5" width="10.1" height="10.1" fill="#0a33f0" stroke="#0a33f0" stroke-width="0.5"/>
<rect x="656.4" y="586.5" width="10.1" height="10.1" fill="#0a33f0" stroke="#0a33f0" stroke-width="0.5"/>
<rect x="677.8" y="608.6" width="10.1" height="10.1" fill="#0a33f0" stroke="#0a33f0" stroke-width="0.5"/>
<rect x="695.5" y="630.6" width="10.1" height="10.1" fill="#0a33f0" stroke="#0a33f0" stroke-width="0.5"/>
<rect x="712.7" y="652.6" width="10.1" height="10.1" fill="#0a33f0" stroke="#0a33f0" stroke-width="0.5"/>
<rect x="726.7" y="674.7" width="10.1" height="10.1" fill="#0a33f0" stroke="#0a33f0" stroke-width="0.5"/>
<rect x="738.2" y="696.7" width="10.1" height="10.1" fill="#0a33f0" stroke="#0a33f0" stroke-width="0.5"/>
<rect x="749.5" y="718.8" width="10.1" height="10.1" fill="#0a33f0" stroke="#0a33f0" stroke-width="0.5"/>
<rect x="761.4" y="740.8" width="10.1" height="10.1" fill="#0a33f0" stroke="#0a33f0" stroke-width="0.5"/>
<path d="M486.5 484.7 L532.4 506.7 L586.8 528.8 L627.5 550.8 L662.4 572.8 L691.5 594.9 L716.8 616.9 L737.2 639.0 L754.9 661.0 L770.2 683.0" fill="none" stroke="#3a58d8" stroke-width="1.7" stroke-linejoin="round"/>
<rect x="481.6" y="479.8" width="9.7" height="9.7" fill="#ffffff" stroke="#6c7ce6" stroke-width="1.3"/>
<rect x="527.5" y="501.9" width="9.7" height="9.7" fill="#ffffff" stroke="#6c7ce6" stroke-width="1.3"/>
<rect x="581.9" y="523.9" width="9.7" height="9.7" fill="#ffffff" stroke="#6c7ce6" stroke-width="1.3"/>
<rect x="622.6" y="545.9" width="9.7" height="9.7" fill="#ffffff" stroke="#6c7ce6" stroke-width="1.3"/>
<rect x="657.5" y="568.0" width="9.7" height="9.7" fill="#ffffff" stroke="#6c7ce6" stroke-width="1.3"/>
<rect x="686.6" y="590.0" width="9.7" height="9.7" fill="#ffffff" stroke="#6c7ce6" stroke-width="1.3"/>
<rect x="711.9" y="612.1" width="9.7" height="9.7" fill="#ffffff" stroke="#6c7ce6" stroke-width="1.3"/>
<rect x="732.4" y="634.1" width="9.7" height="9.7" fill="#ffffff" stroke="#6c7ce6" stroke-width="1.3"/>
<rect x="750.0" y="656.1" width="9.7" height="9.7" fill="#ffffff" stroke="#6c7ce6" stroke-width="1.3"/>
<rect x="765.4" y="678.2" width="9.7" height="9.7" fill="#ffffff" stroke="#6c7ce6" stroke-width="1.3"/>
<path d="M109.4 973.4 L127.4 964.4 L143.0 953.9 L160.0 961.2 L181.0 975.7 L201.5 981.7 L217.0 978.5 L232.2 975.7 L246.4 973.7 L260.0 972.0 L273.0 970.0 L285.6 969.2 L297.9 969.5" fill="none" stroke="#2a2a2a" stroke-width="1.9" stroke-linejoin="round"/>
<polygon points="103.6,978.5 115.2,978.5 109.4,968.3" fill="#000000" stroke="#000000" stroke-width="0.5" stroke-linejoin="miter"/>
<polygon points="121.6,969.5 133.2,969.5 127.4,959.3" fill="#000000" stroke="#000000" stroke-width="0.5" stroke-linejoin="miter"/>
<polygon points="137.2,959.0 148.8,959.0 143.0,948.8" fill="#000000" stroke="#000000" stroke-width="0.5" stroke-linejoin="miter"/>
<polygon points="154.2,966.3 165.8,966.3 160.0,956.1" fill="#000000" stroke="#000000" stroke-width="0.5" stroke-linejoin="miter"/>
<polygon points="175.2,980.8 186.8,980.8 181.0,970.6" fill="#000000" stroke="#000000" stroke-width="0.5" stroke-linejoin="miter"/>
<polygon points="195.7,986.8 207.3,986.8 201.5,976.6" fill="#000000" stroke="#000000" stroke-width="0.5" stroke-linejoin="miter"/>
<polygon points="211.2,983.6 222.8,983.6 217.0,973.4" fill="#000000" stroke="#000000" stroke-width="0.5" stroke-linejoin="miter"/>
<polygon points="226.4,980.8 238.0,980.8 232.2,970.6" fill="#000000" stroke="#000000" stroke-width="0.5" stroke-linejoin="miter"/>
<polygon points="240.6,978.8 252.2,978.8 246.4,968.6" fill="#000000" stroke="#000000" stroke-width="0.5" stroke-linejoin="miter"/>
<polygon points="254.2,977.1 265.8,977.1 260.0,966.9" fill="#000000" stroke="#000000" stroke-width="0.5" stroke-linejoin="miter"/>
<polygon points="267.2,975.1 278.8,975.1 273.0,964.9" fill="#000000" stroke="#000000" stroke-width="0.5" stroke-linejoin="miter"/>
<polygon points="279.8,974.3 291.4,974.3 285.6,964.1" fill="#000000" stroke="#000000" stroke-width="0.5" stroke-linejoin="miter"/>
<polygon points="292.1,974.6 303.7,974.6 297.9,964.4" fill="#000000" stroke="#000000" stroke-width="0.5" stroke-linejoin="miter"/>
<path d="M104.9 897.5 L134.3 895.5 L150.0 897.5 L165.9 903.4 L181.6 906.8 L197.0 909.9 L211.4 909.9 L225.8 908.8 L239.6 908.2 L253.7 911.4 L267.0 911.4" fill="none" stroke="#e4505e" stroke-width="1.6" stroke-linejoin="round"/>
<circle cx="104.9" cy="897.5" r="4.80" fill="#ffffff" stroke="#ee7080" stroke-width="1.2"/><path d="M102.9 897.5H106.9M104.9 895.5V899.5" stroke="#ee7080" stroke-width="1"/>
<circle cx="134.3" cy="895.5" r="4.80" fill="#ffffff" stroke="#ee7080" stroke-width="1.2"/><path d="M132.3 895.5H136.3M134.3 893.5V897.5" stroke="#ee7080" stroke-width="1"/>
<circle cx="150.0" cy="897.5" r="4.80" fill="#ffffff" stroke="#ee7080" stroke-width="1.2"/><path d="M148.0 897.5H152.0M150.0 895.5V899.5" stroke="#ee7080" stroke-width="1"/>
<circle cx="165.9" cy="903.4" r="4.80" fill="#ffffff" stroke="#ee7080" stroke-width="1.2"/><path d="M163.9 903.4H167.9M165.9 901.4V905.4" stroke="#ee7080" stroke-width="1"/>
<circle cx="181.6" cy="906.8" r="4.80" fill="#ffffff" stroke="#ee7080" stroke-width="1.2"/><path d="M179.6 906.8H183.6M181.6 904.8V908.8" stroke="#ee7080" stroke-width="1"/>
<circle cx="197.0" cy="909.9" r="4.80" fill="#ffffff" stroke="#ee7080" stroke-width="1.2"/><path d="M195.0 909.9H199.0M197.0 907.9V911.9" stroke="#ee7080" stroke-width="1"/>
<circle cx="211.4" cy="909.9" r="4.80" fill="#ffffff" stroke="#ee7080" stroke-width="1.2"/><path d="M209.4 909.9H213.4M211.4 907.9V911.9" stroke="#ee7080" stroke-width="1"/>
<circle cx="225.8" cy="908.8" r="4.80" fill="#ffffff" stroke="#ee7080" stroke-width="1.2"/><path d="M223.8 908.8H227.8M225.8 906.8V910.8" stroke="#ee7080" stroke-width="1"/>
<circle cx="239.6" cy="908.2" r="4.80" fill="#ffffff" stroke="#ee7080" stroke-width="1.2"/><path d="M237.6 908.2H241.6M239.6 906.2V910.2" stroke="#ee7080" stroke-width="1"/>
<circle cx="253.7" cy="911.4" r="4.80" fill="#ffffff" stroke="#ee7080" stroke-width="1.2"/><path d="M251.7 911.4H255.7M253.7 909.4V913.4" stroke="#ee7080" stroke-width="1"/>
<circle cx="267.0" cy="911.4" r="4.80" fill="#ffffff" stroke="#ee7080" stroke-width="1.2"/><path d="M265.0 911.4H269.0M267.0 909.4V913.4" stroke="#ee7080" stroke-width="1"/>
<path d="M104.7 887.8 L118.4 886.1 L132.6 885.8 L146.8 882.4 L160.5 880.2 L173.0 873.9 L185.3 869.7 L197.1 866.0 L208.4 861.2 L218.7 855.5 L228.4 846.7 L237.5 840.8 L246.0 829.7 L254.2 824.3" fill="none" stroke="#4a66dc" stroke-width="1.5" stroke-linejoin="round"/>
<rect x="99.9" y="883.0" width="9.6" height="9.6" fill="#ffffff" stroke="#5870e4" stroke-width="1.2"/><path d="M99.9 887.8H109.5M104.7 883.0V892.6" stroke="#5870e4" stroke-width="1"/>
<rect x="113.6" y="881.3" width="9.6" height="9.6" fill="#ffffff" stroke="#5870e4" stroke-width="1.2"/><path d="M113.6 886.1H123.2M118.4 881.3V890.9" stroke="#5870e4" stroke-width="1"/>
<rect x="127.8" y="881.0" width="9.6" height="9.6" fill="#ffffff" stroke="#5870e4" stroke-width="1.2"/><path d="M127.8 885.8H137.4M132.6 881.0V890.6" stroke="#5870e4" stroke-width="1"/>
<rect x="142.0" y="877.6" width="9.6" height="9.6" fill="#ffffff" stroke="#5870e4" stroke-width="1.2"/><path d="M142.0 882.4H151.6M146.8 877.6V887.2" stroke="#5870e4" stroke-width="1"/>
<rect x="155.7" y="875.4" width="9.6" height="9.6" fill="#ffffff" stroke="#5870e4" stroke-width="1.2"/><path d="M155.7 880.2H165.3M160.5 875.4V885.0" stroke="#5870e4" stroke-width="1"/>
<rect x="168.2" y="869.1" width="9.6" height="9.6" fill="#ffffff" stroke="#5870e4" stroke-width="1.2"/><path d="M168.2 873.9H177.8M173.0 869.1V878.7" stroke="#5870e4" stroke-width="1"/>
<rect x="180.5" y="864.9" width="9.6" height="9.6" fill="#ffffff" stroke="#5870e4" stroke-width="1.2"/><path d="M180.5 869.7H190.1M185.3 864.9V874.5" stroke="#5870e4" stroke-width="1"/>
<rect x="192.3" y="861.2" width="9.6" height="9.6" fill="#ffffff" stroke="#5870e4" stroke-width="1.2"/><path d="M192.3 866.0H201.9M197.1 861.2V870.8" stroke="#5870e4" stroke-width="1"/>
<rect x="203.6" y="856.4" width="9.6" height="9.6" fill="#ffffff" stroke="#5870e4" stroke-width="1.2"/><path d="M203.6 861.2H213.2M208.4 856.4V866.0" stroke="#5870e4" stroke-width="1"/>
<rect x="213.9" y="850.7" width="9.6" height="9.6" fill="#ffffff" stroke="#5870e4" stroke-width="1.2"/><path d="M213.9 855.5H223.5M218.7 850.7V860.3" stroke="#5870e4" stroke-width="1"/>
<rect x="223.6" y="841.9" width="9.6" height="9.6" fill="#ffffff" stroke="#5870e4" stroke-width="1.2"/><path d="M223.6 846.7H233.2M228.4 841.9V851.5" stroke="#5870e4" stroke-width="1"/>
<rect x="232.7" y="836.0" width="9.6" height="9.6" fill="#ffffff" stroke="#5870e4" stroke-width="1.2"/><path d="M232.7 840.8H242.3M237.5 836.0V845.6" stroke="#5870e4" stroke-width="1"/>
<rect x="241.2" y="824.9" width="9.6" height="9.6" fill="#ffffff" stroke="#5870e4" stroke-width="1.2"/><path d="M241.2 829.7H250.8M246.0 824.9V834.5" stroke="#5870e4" stroke-width="1"/>
<rect x="249.4" y="819.5" width="9.6" height="9.6" fill="#ffffff" stroke="#5870e4" stroke-width="1.2"/><path d="M249.4 824.3H259.0M254.2 819.5V829.1" stroke="#5870e4" stroke-width="1"/>
<path d="M133.6 1119.0 L176.8 1119.6 L214.1 1117.9 L250.0 1116.9 L279.6 1116.3 L307.0 1116.1 L331.6 1115.7 L354.6 1115.2 L373.8 1115.0 L392.1 1114.7 L407.3 1114.6 L429.4 1114.9" fill="none" stroke="#2a2a2a" stroke-width="1.7" stroke-linejoin="round"/>
<polygon points="127.8,1123.9 139.4,1123.9 133.6,1114.1" fill="#ffffff" stroke="#8a8a8a" stroke-width="1.4" stroke-linejoin="miter"/>
<polygon points="171.0,1124.5 182.6,1124.5 176.8,1114.7" fill="#ffffff" stroke="#8a8a8a" stroke-width="1.4" stroke-linejoin="miter"/>
<polygon points="208.3,1122.8 219.9,1122.8 214.1,1113.0" fill="#ffffff" stroke="#8a8a8a" stroke-width="1.4" stroke-linejoin="miter"/>
<polygon points="244.2,1121.8 255.8,1121.8 250.0,1112.0" fill="#ffffff" stroke="#8a8a8a" stroke-width="1.4" stroke-linejoin="miter"/>
<polygon points="273.8,1121.2 285.4,1121.2 279.6,1111.4" fill="#ffffff" stroke="#8a8a8a" stroke-width="1.4" stroke-linejoin="miter"/>
<polygon points="301.2,1121.0 312.8,1121.0 307.0,1111.2" fill="#ffffff" stroke="#8a8a8a" stroke-width="1.4" stroke-linejoin="miter"/>
<polygon points="325.8,1120.6 337.4,1120.6 331.6,1110.8" fill="#ffffff" stroke="#8a8a8a" stroke-width="1.4" stroke-linejoin="miter"/>
<polygon points="348.8,1120.1 360.4,1120.1 354.6,1110.3" fill="#ffffff" stroke="#8a8a8a" stroke-width="1.4" stroke-linejoin="miter"/>
<polygon points="368.0,1119.9 379.6,1119.9 373.8,1110.1" fill="#ffffff" stroke="#8a8a8a" stroke-width="1.4" stroke-linejoin="miter"/>
<polygon points="386.3,1119.6 397.9,1119.6 392.1,1109.8" fill="#ffffff" stroke="#8a8a8a" stroke-width="1.4" stroke-linejoin="miter"/>
<polygon points="401.5,1119.5 413.1,1119.5 407.3,1109.7" fill="#ffffff" stroke="#8a8a8a" stroke-width="1.4" stroke-linejoin="miter"/>
<polygon points="423.6,1119.8 435.2,1119.8 429.4,1110.0" fill="#ffffff" stroke="#8a8a8a" stroke-width="1.4" stroke-linejoin="miter"/>
<path d="M133.5 1122.2 L176.2 1124.7 L215.0 1123.9 L248.0 1123.7 L277.4 1124.1 L302.2 1123.9 L323.9 1123.3 L342.8 1123.1 L359.6 1124.2 L374.4 1123.9 L387.5 1123.4 L400.4 1124.9 L412.8 1124.9" fill="none" stroke="#e0303e" stroke-width="1.7" stroke-linejoin="round"/>
<circle cx="133.5" cy="1122.2" r="5.15" fill="#f70808" stroke="#f70808" stroke-width="0.5"/>
<circle cx="176.2" cy="1124.7" r="5.15" fill="#f70808" stroke="#f70808" stroke-width="0.5"/>
<circle cx="215.0" cy="1123.9" r="5.15" fill="#f70808" stroke="#f70808" stroke-width="0.5"/>
<circle cx="248.0" cy="1123.7" r="5.15" fill="#f70808" stroke="#f70808" stroke-width="0.5"/>
<circle cx="277.4" cy="1124.1" r="5.15" fill="#f70808" stroke="#f70808" stroke-width="0.5"/>
<circle cx="302.2" cy="1123.9" r="5.15" fill="#f70808" stroke="#f70808" stroke-width="0.5"/>
<circle cx="323.9" cy="1123.3" r="5.15" fill="#f70808" stroke="#f70808" stroke-width="0.5"/>
<circle cx="342.8" cy="1123.1" r="5.15" fill="#f70808" stroke="#f70808" stroke-width="0.5"/>
<circle cx="359.6" cy="1124.2" r="5.15" fill="#f70808" stroke="#f70808" stroke-width="0.5"/>
<circle cx="374.4" cy="1123.9" r="5.15" fill="#f70808" stroke="#f70808" stroke-width="0.5"/>
<circle cx="387.5" cy="1123.4" r="5.15" fill="#f70808" stroke="#f70808" stroke-width="0.5"/>
<circle cx="400.4" cy="1124.9" r="5.15" fill="#f70808" stroke="#f70808" stroke-width="0.5"/>
<circle cx="412.8" cy="1124.9" r="5.15" fill="#f70808" stroke="#f70808" stroke-width="0.5"/>
<path d="M134.4 1132.0 L174.8 1130.8 L208.2 1130.1 L236.4 1130.8 L259.5 1131.0 L278.3 1131.3 L294.5 1131.3 L309.4 1131.3 L322.6 1131.5 L333.9 1131.6 L344.3 1131.6 L354.3 1131.9" fill="none" stroke="#dc2a3a" stroke-width="1.8" stroke-linejoin="round"/>
<circle cx="134.4" cy="1132.0" r="4.65" fill="#ffffff" stroke="#ee5a66" stroke-width="1.5"/>
<circle cx="174.8" cy="1130.8" r="4.65" fill="#ffffff" stroke="#ee5a66" stroke-width="1.5"/>
<circle cx="208.2" cy="1130.1" r="4.65" fill="#ffffff" stroke="#ee5a66" stroke-width="1.5"/>
<circle cx="236.4" cy="1130.8" r="4.65" fill="#ffffff" stroke="#ee5a66" stroke-width="1.5"/>
<circle cx="259.5" cy="1131.0" r="4.65" fill="#ffffff" stroke="#ee5a66" stroke-width="1.5"/>
<circle cx="278.3" cy="1131.3" r="4.65" fill="#ffffff" stroke="#ee5a66" stroke-width="1.5"/>
<circle cx="294.5" cy="1131.3" r="4.65" fill="#ffffff" stroke="#ee5a66" stroke-width="1.5"/>
<circle cx="309.4" cy="1131.3" r="4.65" fill="#ffffff" stroke="#ee5a66" stroke-width="1.5"/>
<circle cx="322.6" cy="1131.5" r="4.65" fill="#ffffff" stroke="#ee5a66" stroke-width="1.5"/>
<circle cx="333.9" cy="1131.6" r="4.65" fill="#ffffff" stroke="#ee5a66" stroke-width="1.5"/>
<circle cx="344.3" cy="1131.6" r="4.65" fill="#ffffff" stroke="#ee5a66" stroke-width="1.5"/>
<circle cx="354.3" cy="1131.9" r="4.65" fill="#ffffff" stroke="#ee5a66" stroke-width="1.5"/>
<path d="M135.4 1142.7 L189.8 1140.4 L230.5 1138.0 L265.4 1137.8 L294.5 1137.7 L319.8 1138.5 L340.2 1138.5 L357.9 1138.5 L373.2 1138.2" fill="none" stroke="#3a58d8" stroke-width="1.7" stroke-linejoin="round"/>
<rect x="130.5" y="1137.9" width="9.7" height="9.7" fill="#ffffff" stroke="#6c7ce6" stroke-width="1.3"/>
<rect x="184.9" y="1135.6" width="9.7" height="9.7" fill="#ffffff" stroke="#6c7ce6" stroke-width="1.3"/>
<rect x="225.7" y="1133.2" width="9.7" height="9.7" fill="#ffffff" stroke="#6c7ce6" stroke-width="1.3"/>
<rect x="260.5" y="1133.0" width="9.7" height="9.7" fill="#ffffff" stroke="#6c7ce6" stroke-width="1.3"/>
<rect x="289.6" y="1132.8" width="9.7" height="9.7" fill="#ffffff" stroke="#6c7ce6" stroke-width="1.3"/>
<rect x="314.9" y="1133.6" width="9.7" height="9.7" fill="#ffffff" stroke="#6c7ce6" stroke-width="1.3"/>
<rect x="335.4" y="1133.6" width="9.7" height="9.7" fill="#ffffff" stroke="#6c7ce6" stroke-width="1.3"/>
<rect x="353.0" y="1133.6" width="9.7" height="9.7" fill="#ffffff" stroke="#6c7ce6" stroke-width="1.3"/>
<rect x="368.4" y="1133.4" width="9.7" height="9.7" fill="#ffffff" stroke="#6c7ce6" stroke-width="1.3"/>
<path d="M129.2 1111.2 L173.0 1122.6 L208.2 1122.3 L238.5 1123.0 L264.4 1123.7 L285.8 1123.1 L303.5 1122.4 L320.7 1122.3 L334.7 1121.4 L346.3 1114.3 L357.5 1120.9 L369.4 1121.1" fill="none" stroke="#2a4ee0" stroke-width="1.5" stroke-linejoin="round"/>
<rect x="124.2" y="1106.2" width="10.1" height="10.1" fill="#0a33f0" stroke="#0a33f0" stroke-width="0.5"/>
<rect x="167.9" y="1117.5" width="10.1" height="10.1" fill="#0a33f0" stroke="#0a33f0" stroke-width="0.5"/>
<rect x="203.2" y="1117.2" width="10.1" height="10.1" fill="#0a33f0" stroke="#0a33f0" stroke-width="0.5"/>
<rect x="233.4" y="1117.9" width="10.1" height="10.1" fill="#0a33f0" stroke="#0a33f0" stroke-width="0.5"/>
<rect x="259.3" y="1118.6" width="10.1" height="10.1" fill="#0a33f0" stroke="#0a33f0" stroke-width="0.5"/>
<rect x="280.7" y="1118.1" width="10.1" height="10.1" fill="#0a33f0" stroke="#0a33f0" stroke-width="0.5"/>
<rect x="298.4" y="1117.3" width="10.1" height="10.1" fill="#0a33f0" stroke="#0a33f0" stroke-width="0.5"/>
<rect x="315.7" y="1117.2" width="10.1" height="10.1" fill="#0a33f0" stroke="#0a33f0" stroke-width="0.5"/>
<rect x="329.7" y="1116.4" width="10.1" height="10.1" fill="#0a33f0" stroke="#0a33f0" stroke-width="0.5"/>
<rect x="341.2" y="1109.3" width="10.1" height="10.1" fill="#0a33f0" stroke="#0a33f0" stroke-width="0.5"/>
<rect x="352.4" y="1115.8" width="10.1" height="10.1" fill="#0a33f0" stroke="#0a33f0" stroke-width="0.5"/>
<rect x="364.3" y="1116.1" width="10.1" height="10.1" fill="#0a33f0" stroke="#0a33f0" stroke-width="0.5"/>
<defs><clipPath id="cf"><rect x="487.5" y="798.2" width="395" height="395"/></clipPath></defs>
<g clip-path="url(#cf)">
<path d="M530.6 976.4 L573.8 979.4 L611.1 971.2 L647.0 966.7 L676.6 964.0 L704.0 963.0 L728.6 961.0 L751.6 958.9 L770.8 957.9 L789.1 956.2 L804.3 955.8 L826.4 957.3" fill="none" stroke="#2a2a2a" stroke-width="1.7" stroke-linejoin="round"/>
<polygon points="524.8,981.3 536.4,981.3 530.6,971.5" fill="#ffffff" stroke="#8a8a8a" stroke-width="1.4" stroke-linejoin="miter"/>
<polygon points="568.0,984.3 579.6,984.3 573.8,974.5" fill="#ffffff" stroke="#8a8a8a" stroke-width="1.4" stroke-linejoin="miter"/>
<polygon points="605.3,976.1 616.9,976.1 611.1,966.3" fill="#ffffff" stroke="#8a8a8a" stroke-width="1.4" stroke-linejoin="miter"/>
<polygon points="641.2,971.6 652.8,971.6 647.0,961.8" fill="#ffffff" stroke="#8a8a8a" stroke-width="1.4" stroke-linejoin="miter"/>
<polygon points="670.8,968.9 682.4,968.9 676.6,959.1" fill="#ffffff" stroke="#8a8a8a" stroke-width="1.4" stroke-linejoin="miter"/>
<polygon points="698.2,967.9 709.8,967.9 704.0,958.1" fill="#ffffff" stroke="#8a8a8a" stroke-width="1.4" stroke-linejoin="miter"/>
<polygon points="722.8,965.9 734.4,965.9 728.6,956.1" fill="#ffffff" stroke="#8a8a8a" stroke-width="1.4" stroke-linejoin="miter"/>
<polygon points="745.8,963.8 757.4,963.8 751.6,954.0" fill="#ffffff" stroke="#8a8a8a" stroke-width="1.4" stroke-linejoin="miter"/>
<polygon points="765.0,962.8 776.6,962.8 770.8,953.0" fill="#ffffff" stroke="#8a8a8a" stroke-width="1.4" stroke-linejoin="miter"/>
<polygon points="783.3,961.1 794.9,961.1 789.1,951.3" fill="#ffffff" stroke="#8a8a8a" stroke-width="1.4" stroke-linejoin="miter"/>
<polygon points="798.5,960.7 810.1,960.7 804.3,950.9" fill="#ffffff" stroke="#8a8a8a" stroke-width="1.4" stroke-linejoin="miter"/>
<polygon points="820.6,962.2 832.2,962.2 826.4,952.4" fill="#ffffff" stroke="#8a8a8a" stroke-width="1.4" stroke-linejoin="miter"/>
<path d="M530.5 991.4 L573.2 1002.8 L612.0 999.1 L645.0 998.5 L674.4 1000.4 L699.2 999.1 L720.9 996.3 L739.8 995.5 L756.6 1000.7 L771.4 999.1 L784.5 996.9 L797.4 1004.1 L809.8 1004.1" fill="none" stroke="#e0303e" stroke-width="1.7" stroke-linejoin="round"/>
<circle cx="530.5" cy="991.4" r="5.15" fill="#f70808" stroke="#f70808" stroke-width="0.5"/>
<circle cx="573.2" cy="1002.8" r="5.15" fill="#f70808" stroke="#f70808" stroke-width="0.5"/>
<circle cx="612.0" cy="999.1" r="5.15" fill="#f70808" stroke="#f70808" stroke-width="0.5"/>
<circle cx="645.0" cy="998.5" r="5.15" fill="#f70808" stroke="#f70808" stroke-width="0.5"/>
<circle cx="674.4" cy="1000.4" r="5.15" fill="#f70808" stroke="#f70808" stroke-width="0.5"/>
<circle cx="699.2" cy="999.1" r="5.15" fill="#f70808" stroke="#f70808" stroke-width="0.5"/>
<circle cx="720.9" cy="996.3" r="5.15" fill="#f70808" stroke="#f70808" stroke-width="0.5"/>
<circle cx="739.8" cy="995.5" r="5.15" fill="#f70808" stroke="#f70808" stroke-width="0.5"/>
<circle cx="756.6" cy="1000.7" r="5.15" fill="#f70808" stroke="#f70808" stroke-width="0.5"/>
<circle cx="771.4" cy="999.1" r="5.15" fill="#f70808" stroke="#f70808" stroke-width="0.5"/>
<circle cx="784.5" cy="996.9" r="5.15" fill="#f70808" stroke="#f70808" stroke-width="0.5"/>
<circle cx="797.4" cy="1004.1" r="5.15" fill="#f70808" stroke="#f70808" stroke-width="0.5"/>
<circle cx="809.8" cy="1004.1" r="5.15" fill="#f70808" stroke="#f70808" stroke-width="0.5"/>
<path d="M531.4 1036.9 L571.8 1031.5 L605.2 1028.2 L633.4 1031.2 L656.5 1032.4 L675.3 1033.6 L691.5 1034.0 L706.4 1034.0 L719.6 1034.5 L730.9 1035.3 L741.3 1035.3 L751.3 1036.5" fill="none" stroke="#dc2a3a" stroke-width="1.8" stroke-linejoin="round"/>
<circle cx="531.4" cy="1036.9" r="4.65" fill="#ffffff" stroke="#ee5a66" stroke-width="1.5"/>
<circle cx="571.8" cy="1031.5" r="4.65" fill="#ffffff" stroke="#ee5a66" stroke-width="1.5"/>
<circle cx="605.2" cy="1028.2" r="4.65" fill="#ffffff" stroke="#ee5a66" stroke-width="1.5"/>
<circle cx="633.4" cy="1031.2" r="4.65" fill="#ffffff" stroke="#ee5a66" stroke-width="1.5"/>
<circle cx="656.5" cy="1032.4" r="4.65" fill="#ffffff" stroke="#ee5a66" stroke-width="1.5"/>
<circle cx="675.3" cy="1033.6" r="4.65" fill="#ffffff" stroke="#ee5a66" stroke-width="1.5"/>
<circle cx="691.5" cy="1034.0" r="4.65" fill="#ffffff" stroke="#ee5a66" stroke-width="1.5"/>
<circle cx="706.4" cy="1034.0" r="4.65" fill="#ffffff" stroke="#ee5a66" stroke-width="1.5"/>
<circle cx="719.6" cy="1034.5" r="4.65" fill="#ffffff" stroke="#ee5a66" stroke-width="1.5"/>
<circle cx="730.9" cy="1035.3" r="4.65" fill="#ffffff" stroke="#ee5a66" stroke-width="1.5"/>
<circle cx="741.3" cy="1035.3" r="4.65" fill="#ffffff" stroke="#ee5a66" stroke-width="1.5"/>
<circle cx="751.3" cy="1036.5" r="4.65" fill="#ffffff" stroke="#ee5a66" stroke-width="1.5"/>
<path d="M532.4 1087.1 L586.8 1076.3 L627.5 1065.1 L662.4 1064.1 L691.5 1063.6 L716.8 1067.3 L737.2 1067.3 L754.9 1067.3 L770.2 1066.1" fill="none" stroke="#3a58d8" stroke-width="1.7" stroke-linejoin="round"/>
<rect x="527.5" y="1082.3" width="9.7" height="9.7" fill="#ffffff" stroke="#6c7ce6" stroke-width="1.3"/>
<rect x="581.9" y="1071.4" width="9.7" height="9.7" fill="#ffffff" stroke="#6c7ce6" stroke-width="1.3"/>
<rect x="622.6" y="1060.2" width="9.7" height="9.7" fill="#ffffff" stroke="#6c7ce6" stroke-width="1.3"/>
<rect x="657.5" y="1059.3" width="9.7" height="9.7" fill="#ffffff" stroke="#6c7ce6" stroke-width="1.3"/>
<rect x="686.6" y="1058.8" width="9.7" height="9.7" fill="#ffffff" stroke="#6c7ce6" stroke-width="1.3"/>
<rect x="711.9" y="1062.5" width="9.7" height="9.7" fill="#ffffff" stroke="#6c7ce6" stroke-width="1.3"/>
<rect x="732.4" y="1062.5" width="9.7" height="9.7" fill="#ffffff" stroke="#6c7ce6" stroke-width="1.3"/>
<rect x="750.0" y="1062.5" width="9.7" height="9.7" fill="#ffffff" stroke="#6c7ce6" stroke-width="1.3"/>
<rect x="765.4" y="1061.3" width="9.7" height="9.7" fill="#ffffff" stroke="#6c7ce6" stroke-width="1.3"/>
<path d="M526.2 940.1 L570.0 993.0 L605.2 991.7 L635.5 995.0 L661.4 998.3 L682.8 995.6 L700.5 992.1 L717.7 991.7 L731.7 987.7 L743.3 954.6 L754.5 985.0 L766.4 986.4" fill="none" stroke="#2a4ee0" stroke-width="1.5" stroke-linejoin="round"/>
<rect x="521.2" y="935.0" width="10.1" height="10.1" fill="#0a33f0" stroke="#0a33f0" stroke-width="0.5"/>
<rect x="565.0" y="987.9" width="10.1" height="10.1" fill="#0a33f0" stroke="#0a33f0" stroke-width="0.5"/>
<rect x="600.2" y="986.6" width="10.1" height="10.1" fill="#0a33f0" stroke="#0a33f0" stroke-width="0.5"/>
<rect x="630.5" y="989.9" width="10.1" height="10.1" fill="#0a33f0" stroke="#0a33f0" stroke-width="0.5"/>
<rect x="656.4" y="993.2" width="10.1" height="10.1" fill="#0a33f0" stroke="#0a33f0" stroke-width="0.5"/>
<rect x="677.8" y="990.6" width="10.1" height="10.1" fill="#0a33f0" stroke="#0a33f0" stroke-width="0.5"/>
<rect x="695.5" y="987.0" width="10.1" height="10.1" fill="#0a33f0" stroke="#0a33f0" stroke-width="0.5"/>
<rect x="712.7" y="986.6" width="10.1" height="10.1" fill="#0a33f0" stroke="#0a33f0" stroke-width="0.5"/>
<rect x="726.7" y="982.6" width="10.1" height="10.1" fill="#0a33f0" stroke="#0a33f0" stroke-width="0.5"/>
<rect x="738.2" y="949.6" width="10.1" height="10.1" fill="#0a33f0" stroke="#0a33f0" stroke-width="0.5"/>
<rect x="749.5" y="980.0" width="10.1" height="10.1" fill="#0a33f0" stroke="#0a33f0" stroke-width="0.5"/>
<rect x="761.4" y="981.3" width="10.1" height="10.1" fill="#0a33f0" stroke="#0a33f0" stroke-width="0.5"/>
</g>
<g font-family="Liberation Sans, Arial, Helvetica, sans-serif" font-size="24" fill="#1c1c1c">
<g text-anchor="end">
<text x="81" y="409.0">0.0</text>
<text x="81" y="805.6">0.0</text>
<text x="81" y="298.7">0.5</text>
<text x="81" y="695.4">0.5</text>
<text x="81" y="188.4">1.0</text>
<text x="81" y="585.2">1.0</text>
<text x="81" y="78.1">1.5</text>
<text x="81" y="475.0">1.5</text>
<text x="81" y="1202.4">0.0</text>
<text x="81" y="1060.7">0.5</text>
<text x="81" y="918.9">1.0</text>
</g>
<text x="893" y="1202.4">0.1</text>
<text x="893" y="1070.2">0.2</text>
<text x="893" y="937.9">0.3</text>
<text x="893" y="805.6">0.4</text>
<g text-anchor="middle">
<text x="89.5" y="1225.2">0</text>
<text x="179.7" y="1225.2">500</text>
<text x="269.9" y="1225.2">1000</text>
<text x="360.0" y="1225.2">1500</text>
<text x="450.2" y="1225.2">2000</text>
<text x="576.7" y="1225.2">500</text>
<text x="666.9" y="1225.2">1000</text>
<text x="757.0" y="1225.2">1500</text>
<text x="847.2" y="1225.2">2000</text>
</g>
<g text-anchor="end">
<text x="462.7" y="61.1">(a)</text>
<text x="853.6" y="61.1">(b)</text>
<text x="462.3" y="440.1">(c)</text>
<text x="853.3" y="440.1">(d)</text>
<text x="462.7" y="845.3">(e)</text>
<text x="853.3" y="845.3">(f)</text>
</g>
<text x="491.2" y="1272.4" text-anchor="middle" font-size="23.7">Current density [ mA/cm<tspan dy="-15" font-size="16">2</tspan><tspan dy="15"> ]</tspan></text>
<text transform="translate(21 201.5) rotate(-90)" text-anchor="middle" font-size="23.7">iR-corrected voltage [ V ]</text>
<text transform="translate(21 599.4) rotate(-90)" text-anchor="middle" font-size="23.7">Voltage [ V ]</text>
<text transform="translate(30.2 996.5) rotate(-90)" text-anchor="middle" font-size="23.7">ASR [ Ω cm<tspan dy="-15" font-size="16">2</tspan><tspan dy="15"> ]</tspan></text>
<text transform="translate(945 994.2) rotate(90)" text-anchor="middle" font-size="23.7">ASR [ Ω cm<tspan dy="-15" font-size="16">2</tspan><tspan dy="15"> ]</tspan></text>
</g>
</svg>
</body></html>
